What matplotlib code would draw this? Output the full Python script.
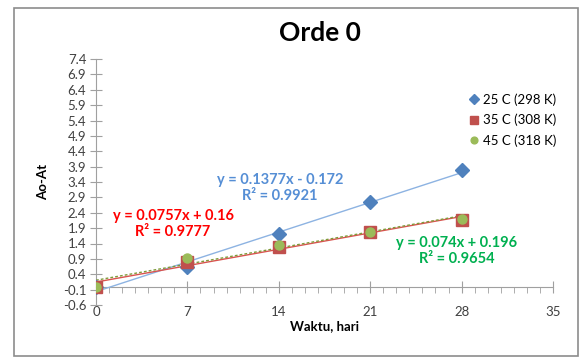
import numpy as np
import matplotlib.pyplot as plt

plt.rcParams['font.family'] = ['Lato', 'DejaVu Sans']

# data
days = [0, 7, 14, 21, 28]
t25 = [0.0, 0.63, 1.70, 2.74, 3.78]
t35 = [0.0, 0.81, 1.29, 1.78, 2.18]
t45 = [0.0, 0.94, 1.35, 1.78, 2.20]
labels = ['25 C (298 K)', '35 C (308 K)', '45 C (318 K)']
eq_texts = ['y = 0.1377x - 0.172\nR² = 0.9921',
            'y = 0.0757x + 0.16\nR² = 0.9777',
            'y = 0.074x + 0.196\nR² = 0.9654']

fig = plt.figure(figsize=(5.81, 3.58), dpi=100)
# outer chart border
fig.patches.append(plt.Rectangle((14/581, 2/358), 564/581, 348/358, transform=fig.transFigure,
                                 fill=False, edgecolor='#8c8c8c', linewidth=1.2))
ax = fig.add_axes([96/581, 53/358, 457/581, 246/358])

x = np.array(days)
fits = []
for ys in (t25, t35, t45):
    fits.append(np.polyfit(x, ys, 1))
xx = np.array([0, 28])

ax.plot(xx, np.polyval(fits[0], xx), color='#8db3e2', lw=1, zorder=2)
ax.plot(xx, np.polyval(fits[1], xx), color='#d9534f', lw=1, zorder=2)
ax.plot(xx, np.polyval(fits[2], xx), color='#7f9a3a', lw=1, ls=(0, (2, 1.5)), zorder=3)

ax.plot(days, t25, 'D', color='#4f81bd', ms=7, zorder=4, label=labels[0])
ax.plot(days, t35, 's', color='#c0504d', ms=8, zorder=5, label=labels[1])
ax.plot(days, t45, 'o', color='#9bbb59', ms=6.5, zorder=6, label=labels[2])

ax.set_xlim(0, 35)
ax.set_ylim(-0.6, 7.4)

yt = np.arange(-0.6, 7.41, 0.5)
ax.set_yticks(yt)
ax.set_yticklabels(['%.1f' % v for v in yt])
ax.tick_params(axis='y', direction='inout', length=8, color='#a0a0a0', labelsize=9.5,
               labelcolor='#404040', pad=3)

# x labels at the bottom, axis line drawn at y = 0
ax.set_xticks(np.arange(0, 36, 7))
ax.tick_params(axis='x', length=0, labelsize=9.5, labelcolor='#404040', pad=1)
for s in ('top', 'right', 'bottom'):
    ax.spines[s].set_visible(False)
ax.spines['left'].set_color('#a0a0a0')

sec = ax.secondary_xaxis(0.6 / 8.0)
sec.set_xticks(np.arange(0, 36, 7))
sec.set_xticks(np.arange(0, 36, 1), minor=True)
sec.tick_params(which='major', direction='inout', length=8, color='#a0a0a0', labelbottom=False)
sec.tick_params(which='minor', direction='out', length=4, color='#a0a0a0')
sec.spines['bottom'].set_color('#a0a0a0')

ax.text(14.1, 3.2, eq_texts[0], color='#558ed5', fontsize=10.5, fontweight='bold',
        ha='center', va='center', linespacing=1.15)
ax.text(5.9, 2.03, eq_texts[1], color='#ff0000', fontsize=10.5, fontweight='bold',
        ha='center', va='center', linespacing=1.15)
ax.text(27.65, 1.15, eq_texts[2], color='#00b050', fontsize=10.5, fontweight='bold',
        ha='center', va='center', linespacing=1.15)

ax.set_xlabel('Waktu, hari', fontsize=9.5, fontweight='bold', labelpad=1)
ax.set_ylabel('Ao-At', fontsize=9.5, fontweight='bold', labelpad=10)
fig.text(0.551, 0.908, 'Orde 0', ha='center', va='center', fontsize=19, fontweight='bold')

ax.legend(loc='upper left', bbox_to_anchor=(463/581, (358 - 88)/358), bbox_transform=fig.transFigure,
          frameon=False, fontsize=9.5, handlelength=0.8, handletextpad=0.3, labelspacing=0.6,
          markerscale=0.75, borderaxespad=0)

fig.savefig('out.png', dpi=100)
